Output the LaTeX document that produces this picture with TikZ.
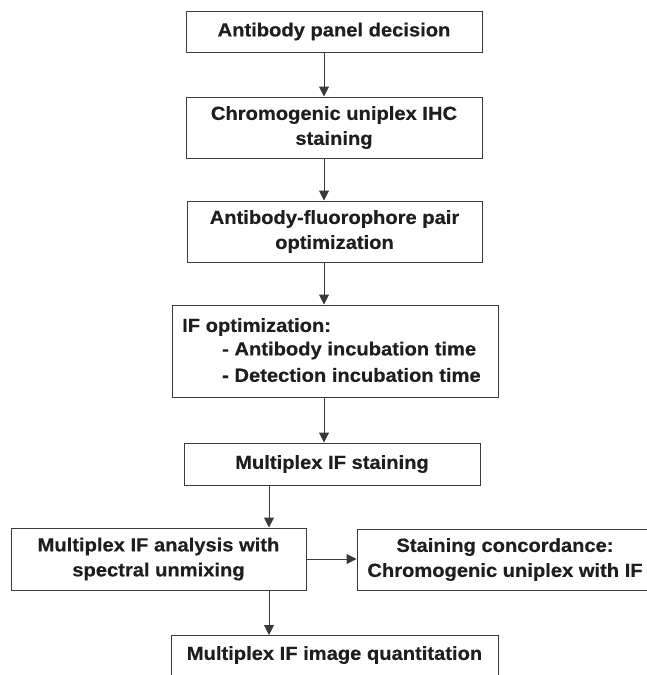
\documentclass[tikz,border=0pt]{standalone}
\usepackage{fontspec}
\setmainfont{Liberation Sans}[BoldFeatures={FakeStretch=1.06,FakeBold=0.4}]
\usetikzlibrary{arrows.meta}
\definecolor{ink}{HTML}{1E1E1E}
\definecolor{edge}{HTML}{3A3A3A}
\tikzset{
  box/.style={draw=edge, line width=1pt, fill=white, inner sep=0pt, align=center,
    text=ink, font=\fontsize{19}{25}\selectfont\bfseries},
  flow/.style={draw=edge, line width=1pt, -{Triangle[length=10pt,width=10pt]}},
  lbl/.style={inner sep=0pt, text=ink, font=\fontsize{19}{25}\selectfont\bfseries, align=left}
}
\begin{document}
\begin{tikzpicture}[x=1pt,y=-1pt]
\useasboundingbox (0,0) rectangle (647,675);
\node[box, minimum width=296, minimum height=41] (b1) at (334,31.5) {Antibody panel decision};
\node[box, minimum width=296, minimum height=61] (b2) at (334,127.5) {Chromogenic uniplex IHC\\staining};
\node[box, minimum width=295, minimum height=61] (b3) at (334.5,231.5) {Antibody-fluorophore pair\\optimization};
\node[box, minimum width=326, minimum height=92] (b4) at (335,351) {};
\node[lbl, anchor=west] (t4a) at (182,327) {IF optimization:};
\node[lbl, anchor=west] (t4b) at (222,350.5) {- Antibody incubation time};
\node[lbl, anchor=west] (t4c) at (222,375) {- Detection incubation time};
\node[box, minimum width=296, minimum height=42] (b5) at (332,464) {Multiplex IF staining};
\node[box, minimum width=295, minimum height=62] (b6) at (158.5,559) {Multiplex IF analysis with\\spectral unmixing};
\node[box, minimum width=296, minimum height=61] (b7) at (505,559.5) {Staining concordance:\\Chromogenic uniplex with IF};
\node[box, minimum width=327, minimum height=70, anchor=north] (b8) at (334.5,635) {};
\node[lbl, anchor=center] (t8) at (334.5,655) {Multiplex IF image quantitation};
\coordinate (xa) at (324,0);
\coordinate (xb) at (269,0);
\draw[flow] (b1.south -| xa) -- (b2.north -| xa);
\draw[flow] (b2.south -| xa) -- (b3.north -| xa);
\draw[flow] (b3.south -| xa) -- (b4.north -| xa);
\draw[flow] (b4.south -| xa) -- (b5.north -| xa);
\draw[flow] (b5.south -| xb) -- (b6.north -| xb);
\draw[flow] (b6.south -| xb) -- (b8.north -| xb);
\draw[flow] (b6.east) -- (b7.west |- b6.east);
\end{tikzpicture}
\end{document}
